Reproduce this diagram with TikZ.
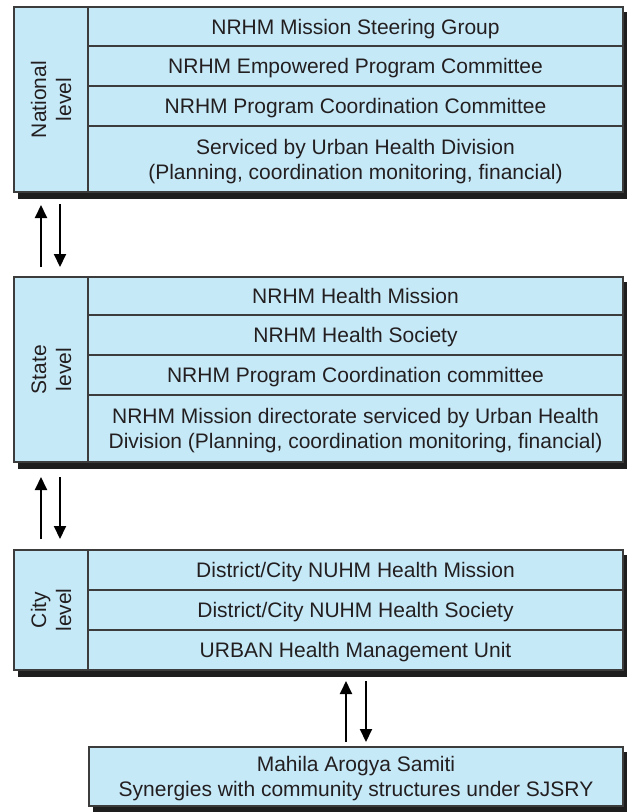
\documentclass[tikz,border=0pt]{standalone}
\usepackage{fontspec}
\setmainfont{Liberation Sans}
\usetikzlibrary{arrows.meta,backgrounds}
\definecolor{cellfill}{RGB}{198,233,248}
\definecolor{edge}{RGB}{60,60,60}
\definecolor{shd}{RGB}{30,30,30}
\definecolor{txt}{RGB}{35,31,32}
\newcommand\sst{\rule[-5pt]{0pt}{25pt}}
\begin{document}
\begin{tikzpicture}[x=1pt,y=-1pt,
  cell/.style={draw=edge,line width=1.2pt,fill=cellfill,inner sep=0pt,align=center,text=txt,
    font=\fontsize{21}{25}\selectfont},
  lab/.style={cell,rotate=90},
  shadowfill/.style={fill=shd},
  arr/.style={line width=2pt,draw=black,-{Triangle[length=13pt,width=12pt]}}]
\useasboundingbox (0,0) rectangle (627,812);
% ---------- National ----------
\node[lab,minimum width=185pt,minimum height=74pt] (nl) at (51,99.5) {\sst National\\\sst level};
\node[cell,minimum width=535pt,minimum height=39pt] (n1) at (355.5,26.5) {\sst NRHM Mission Steering Group};
\node[cell,minimum width=535pt,minimum height=40pt] (n2) at (355.5,66) {\sst NRHM Empowered Program Committee};
\node[cell,minimum width=535pt,minimum height=40pt] (n3) at (355.5,106) {\sst NRHM Program Coordination Committee};
\node[cell,minimum width=535pt,minimum height=66pt] (n4) at (355.5,159) {\sst Serviced by Urban Health Division\\\sst (Planning, coordination monitoring, financial)};
% ---------- State ----------
\node[lab,minimum width=185pt,minimum height=74pt] (sl) at (51,369.5) {\sst State\\\sst level};
\node[cell,minimum width=535pt,minimum height=38pt] (s1) at (355.5,296) {\sst NRHM Health Mission};
\node[cell,minimum width=535pt,minimum height=40pt] (s2) at (355.5,335) {\sst NRHM Health Society};
\node[cell,minimum width=535pt,minimum height=40pt] (s3) at (355.5,375) {\sst NRHM Program Coordination committee};
\node[cell,minimum width=535pt,minimum height=67pt] (s4) at (355.5,428.5) {\sst NRHM Mission directorate serviced by Urban Health\\\sst Division (Planning, coordination monitoring, financial)};
% ---------- City ----------
\node[lab,minimum width=120pt,minimum height=74pt] (cl) at (51,610) {\sst City\\\sst level};
\node[cell,minimum width=535pt,minimum height=40pt] (c1) at (355.5,570) {\sst District/City NUHM Health Mission};
\node[cell,minimum width=535pt,minimum height=40pt] (c2) at (355.5,610) {\sst District/City NUHM Health Society};
\node[cell,minimum width=535pt,minimum height=40pt] (c3) at (355.5,650) {\sst URBAN Health Management Unit};
% ---------- Bottom ----------
\node[cell,minimum width=534pt,minimum height=59pt] (mas) at (356,776.5) {\sst Mahila Arogya Samiti\\\sst Synergies with community structures under SJSRY};
% ---------- Shadows (label nodes are rotated: their north east is the top-left corner) ----------
\begin{pgfonlayer}{background}
\fill[shadowfill] ([shift={(5,6)}]nl.north east) rectangle ([shift={(5,6)}]n4.south east);
\fill[shadowfill] ([shift={(5,6)}]sl.north east) rectangle ([shift={(5,6)}]s4.south east);
\fill[shadowfill] ([shift={(5,6)}]cl.north east) rectangle ([shift={(5,6)}]c3.south east);
\fill[shadowfill] ([shift={(5,6)}]mas.north west) rectangle ([shift={(5,6)}]mas.south east);
\end{pgfonlayer}
% ---------- Arrows ----------
\coordinate (a1b) at (41,267); \coordinate (a1t) at (41,205);
\coordinate (a2t) at (60,204); \coordinate (a2b) at (60,267);
\coordinate (b1b) at (41,539); \coordinate (b1t) at (41,477);
\coordinate (b2t) at (60,477); \coordinate (b2b) at (60,539);
\coordinate (c1b) at (346,742); \coordinate (c1t) at (346,681);
\coordinate (c2t) at (366,681); \coordinate (c2b) at (366,742);
\draw[arr] (a1b) -- (a1t);
\draw[arr] (a2t) -- (a2b);
\draw[arr] (b1b) -- (b1t);
\draw[arr] (b2t) -- (b2b);
\draw[arr] (c1b) -- (c1t);
\draw[arr] (c2t) -- (c2b);
\end{tikzpicture}
\end{document}
